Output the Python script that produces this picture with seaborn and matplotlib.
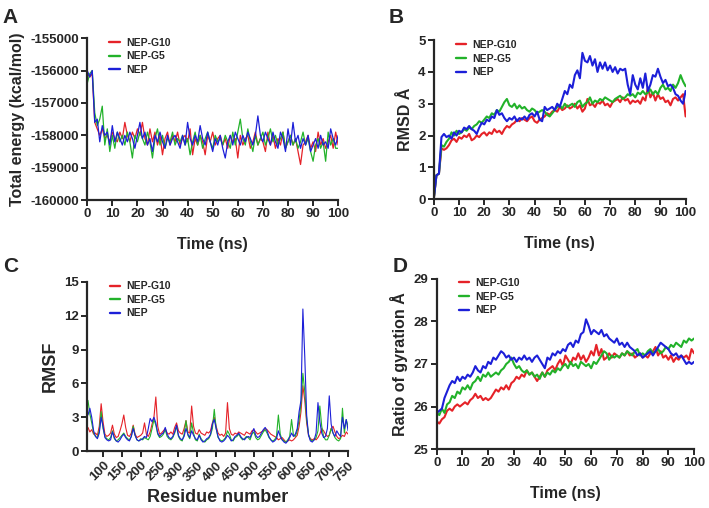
import numpy as np
import pandas as pd
import matplotlib
matplotlib.use("Agg")
import matplotlib.pyplot as plt
import seaborn as sns

# ---- data ----
series_names = ["NEP-G10", "NEP-G5", "NEP"]
series_colors = ["#e52228", "#22b22a", "#1c1fd8"]

time_ns = list(range(0, 101))

energy_g10 = [-156100, -156200, -156100, -157600, -157800, -158000, -157800, -158100, -158000, -158200,
              -157900, -158100, -158200, -157900, -158100, -157600, -158000, -158200, -157900, -158100,
              -157800, -158000, -157600, -158100, -158300, -157800, -158200, -157900, -158300, -158000,
              -158600, -158100, -157900, -158300, -158000, -158200, -157900, -158300, -158100, -158000,
              -158200, -157800, -158600, -158100, -158300, -158000, -158200, -158600, -158000, -158200,
              -157900, -158300, -158100, -158000, -158300, -158100, -158400, -158000, -158200, -158100,
              -158700, -158000, -158300, -158100, -158000, -158400, -158200, -157900, -158300, -158100,
              -158200, -158500, -157900, -158300, -158000, -158400, -158100, -158300, -157900, -158400,
              -158200, -158000, -158300, -158100, -158500, -158900, -158300, -158200, -158000, -158400,
              -158200, -158500, -157900, -158300, -158100, -158400, -158200, -158000, -158400, -157900,
              -158300]
energy_g5 = [-156400, -156100, -156000, -157300, -157700, -157500, -157100, -158300, -157800, -158500,
             -158000, -158400, -157900, -158200, -158000, -158300, -157900, -158200, -158700, -158000,
             -158200, -157900, -158100, -158300, -157900, -158200, -158700, -158100, -157800, -158300,
             -158000, -158400, -158100, -158200, -157900, -158300, -158100, -158200, -158000, -158300,
             -158100, -158600, -158200, -157900, -158300, -158000, -158400, -158100, -157900, -158200,
             -158400, -158000, -158200, -158100, -158300, -158000, -158200, -158400, -157900, -158300,
             -157900, -157500, -158100, -158300, -157800, -158200, -158500, -158000, -158300, -158100,
             -157900, -158300, -158100, -157800, -158200, -158000, -158300, -158100, -157900, -158400,
             -158200, -158000, -158300, -158100, -158400, -158200, -157900, -158300, -158100, -158500,
             -158800, -158300, -158100, -158400, -158200, -158800, -157900, -158300, -158100, -158400,
             -158400]
energy_nep = [-156000, -156200, -156000, -157600, -157500, -158200, -157700, -158000, -157900, -158300,
              -157700, -158200, -157900, -158100, -158300, -158000, -158200, -157900, -158100, -158400,
              -158000, -157600, -158100, -157900, -158300, -158100, -158500, -158000, -158200, -157900,
              -158200, -158400, -158000, -158300, -158100, -158000, -158200, -158400, -158000, -158300,
              -157600, -158100, -158300, -158000, -158200, -157700, -158100, -158300, -157900, -158200,
              -158500, -158100, -158300, -158000, -158400, -158700, -158200, -158000, -158300, -157900,
              -158100, -158300, -158000, -158200, -157900, -158100, -158300, -158000, -157400, -158000,
              -158200, -157900, -158100, -158300, -157900, -158200, -158400, -157900, -158100, -158500,
              -157800, -158300, -157600, -158200, -158000, -158400, -158100, -158300, -158000, -158500,
              -158300, -158100, -158400, -158000, -158300, -158200, -158400, -157800, -158100, -158300,
              -158000]

rmsd_g10 = [0.05, 0.75, 0.8, 1.6, 1.55, 1.6, 1.7, 1.85, 1.9, 1.8,
            1.95, 1.9, 2.0, 1.95, 2.05, 1.85, 1.9, 2.0, 1.95, 2.05,
            2.1, 2.0, 2.1, 2.05, 2.2, 2.1, 2.15, 2.05, 2.2, 2.3,
            2.25, 2.35, 2.4, 2.5, 2.45, 2.55, 2.5, 2.45, 2.55, 2.6,
            2.45, 2.4, 2.5, 2.55, 2.6, 2.7, 2.65, 2.75, 2.8, 2.75,
            2.9, 2.8, 2.85, 2.95, 2.85, 2.9, 3.0, 2.85, 2.95, 2.75,
            2.85, 3.15, 2.95, 3.0, 2.9, 3.05, 3.0, 3.1, 2.95, 3.0,
            2.9, 3.05, 3.1, 3.15, 3.05, 3.2, 3.1, 3.15, 3.0, 3.1,
            3.05, 3.1, 3.0, 3.2, 3.1, 3.5, 3.2, 3.35, 3.1, 3.3,
            3.15, 3.2, 3.05, 3.1, 2.95, 3.15, 3.2, 3.1, 3.2, 3.3,
            2.6]
rmsd_g5 = [0.05, 0.75, 0.8, 1.7, 1.65, 1.8, 1.9, 2.1, 2.0, 2.15,
           2.05, 2.1, 2.2, 2.15, 2.25, 2.2, 2.3, 2.35, 2.45, 2.4,
           2.5, 2.6, 2.55, 2.7, 2.65, 2.8, 2.75, 2.9, 3.05, 3.15,
           2.95, 2.9, 3.0, 2.85, 2.95, 2.85, 2.9, 2.8, 2.75, 2.85,
           2.8, 2.7, 2.75, 2.8, 2.75, 2.65, 2.6, 2.7, 2.8, 2.9,
           2.95, 2.85, 3.0, 2.9, 2.95, 3.0, 2.9, 3.05, 3.1, 2.9,
           3.0, 3.05, 3.2, 3.0, 3.1, 3.05, 3.15, 3.1, 3.2, 3.15,
           3.1, 3.05, 3.15, 3.2, 3.25, 3.15, 3.2, 3.3, 3.25, 3.3,
           3.2, 3.35, 3.3, 3.4, 3.3, 3.35, 3.45, 3.3, 3.4, 3.3,
           3.5, 3.6, 3.45, 3.5, 3.4, 3.6, 3.5, 3.65, 3.9, 3.7,
           3.55]
rmsd_nep = [0.05, 0.75, 0.8, 1.95, 2.05, 1.95, 2.0, 1.9, 2.1, 2.0,
            2.15, 2.1, 2.25, 2.2, 2.3, 2.2, 2.15, 2.05, 2.25, 2.4,
            2.35, 2.5, 2.45, 2.6, 2.55, 2.8, 2.65, 2.7, 2.55, 2.45,
            2.55, 2.5, 2.6, 2.45, 2.55, 2.5, 2.6, 2.5, 2.65, 2.7,
            2.6, 2.75, 2.5, 2.45, 2.9, 2.8, 2.85, 2.9, 2.8, 3.0,
            2.9, 3.15, 3.4, 3.3, 3.6, 3.5, 3.9, 4.05, 3.8, 4.6,
            4.35, 4.3, 4.5, 4.2, 4.4, 4.0, 4.3, 4.1, 4.3, 4.05,
            4.2, 4.0, 4.15, 3.95, 4.1, 4.05, 4.1, 3.6, 3.3, 3.9,
            3.6, 3.45, 3.8, 3.5, 3.95, 3.4, 3.6, 3.9, 3.85, 4.1,
            3.85, 3.65, 3.75, 3.55, 3.6, 3.5, 3.3, 3.25, 3.1, 3.0,
            3.4]

residues = list(range(60, 751, 5))
rmsf_g10 = [2.1, 1.7, 1.9, 1.5, 1.6, 1.4, 2.2, 4.2, 2.6, 1.5,
            1.3, 1.4, 1.6, 2.3, 1.5, 1.2, 1.3, 1.8, 2.4, 3.2,
            2.1, 1.4, 1.3, 1.6, 2.3, 1.5, 1.2, 1.3, 1.4, 1.6,
            2.5, 1.5, 1.3, 1.7, 2.4, 3.0, 4.8, 2.2, 1.5, 1.6,
            1.8, 2.0, 1.6, 1.5, 1.7, 1.5, 2.1, 2.5, 1.8, 1.6,
            1.5, 2.0, 2.7, 1.7, 1.6, 4.0, 2.2, 1.6, 1.5, 1.9,
            1.6, 1.5, 1.4, 1.7, 1.6, 1.8, 2.5, 3.0, 2.2, 1.6,
            1.4, 1.5, 1.3, 1.6, 4.3, 2.0, 1.5, 1.4, 1.6, 1.5,
            1.7, 1.6, 1.5, 1.4, 1.7, 1.6, 1.5, 1.8, 1.9, 1.7,
            1.5, 1.6, 1.7, 1.8, 2.0, 1.9, 1.7, 1.5, 1.4, 1.3,
            1.2, 1.0, 1.1, 1.2, 1.0, 0.8, 0.9, 1.0, 0.9, 1.0,
            1.2, 1.4, 2.2, 3.5, 5.8, 4.5, 2.5, 1.4, 1.1, 1.0,
            1.1, 1.0, 1.2, 1.5, 2.0, 1.8, 1.5, 1.3, 1.4, 2.0,
            2.2, 1.7, 1.3, 1.1, 1.2, 1.4, 1.3, 1.7, 1.5]
rmsf_g5 = [4.5, 3.3, 2.5, 1.6, 1.3, 1.2, 1.8, 3.5, 2.0, 1.3,
           1.1, 1.0, 1.2, 1.8, 1.1, 0.9, 1.0, 1.2, 1.4, 1.6,
           1.3, 1.1, 1.0, 1.3, 2.2, 1.4, 1.0, 0.9, 1.1, 1.0,
           1.2, 1.1, 1.0, 1.3, 2.0, 2.8, 2.3, 1.5, 1.2, 1.3,
           1.5, 1.9, 1.3, 1.1, 1.0, 1.2, 1.6, 2.2, 1.3, 1.0,
           0.9, 1.5, 2.7, 1.4, 1.1, 2.5, 1.6, 1.0, 0.9, 1.5,
           1.1, 0.9, 0.8, 1.0, 1.1, 1.4, 2.0, 3.7, 2.0, 1.2,
           1.0, 0.9, 1.0, 1.2, 1.8, 1.5, 1.0, 0.9, 1.2, 1.3,
           1.5, 1.2, 1.0, 1.1, 1.3, 1.2, 1.0, 1.5, 1.7, 1.2,
           1.0, 1.1, 1.4, 1.7, 1.9, 1.6, 1.2, 1.0, 0.9, 1.0,
           1.3, 3.2, 1.5, 1.0, 0.9, 0.8, 1.0, 1.3, 2.8, 1.4,
           1.3, 1.8, 2.8, 4.2, 6.9, 5.3, 2.8, 1.5, 1.0, 0.9,
           1.0, 1.2, 1.8, 4.0, 2.2, 1.3, 1.0, 1.0, 1.4, 2.0,
           1.6, 1.2, 1.0, 0.9, 1.1, 3.8, 1.6, 2.8, 2.2]
rmsf_nep = [3.2, 3.8, 3.0, 1.8, 1.3, 1.1, 1.6, 3.0, 2.2, 1.2,
            1.0, 0.9, 1.0, 1.7, 1.2, 0.9, 0.8, 1.0, 1.3, 1.5,
            1.2, 1.0, 0.9, 1.3, 2.0, 1.4, 1.0, 0.9, 1.0, 1.1,
            1.3, 1.2, 2.0, 2.9, 2.6, 3.0, 2.5, 1.6, 1.3, 1.5,
            1.6, 2.1, 1.5, 1.2, 1.1, 1.3, 1.7, 2.3, 1.4, 1.1,
            1.0, 1.3, 2.0, 1.5, 1.2, 1.8, 1.4, 1.1, 1.0, 1.4,
            1.0, 0.8, 0.9, 1.1, 1.2, 1.5, 2.4, 2.8, 2.0, 1.3,
            0.9, 0.8, 0.9, 1.1, 1.4, 1.2, 0.9, 1.0, 1.3, 1.4,
            1.6, 1.3, 1.1, 1.0, 1.2, 1.3, 1.2, 1.6, 2.0, 1.4,
            1.2, 1.3, 1.6, 1.9, 2.1, 1.8, 1.3, 1.0, 0.8, 0.9,
            1.1, 1.8, 1.3, 1.0, 0.8, 0.7, 0.9, 1.2, 1.6, 1.3,
            1.5, 2.0, 3.5, 4.5, 12.6, 8.4, 3.2, 1.4, 0.9, 0.8,
            1.0, 1.6, 4.3, 2.6, 1.6, 1.2, 1.3, 2.0, 4.9, 2.4,
            1.6, 1.3, 1.8, 1.5, 1.3, 3.0, 2.0, 2.8, 1.8]

rg_g10 = [25.65, 25.6, 25.7, 25.75, 25.9, 25.95, 25.9, 26.0, 26.05, 26.0,
          26.05, 26.1, 26.05, 26.15, 26.2, 26.3, 26.2, 26.25, 26.15, 26.2,
          26.15, 26.2, 26.3, 26.4, 26.35, 26.45, 26.4, 26.5, 26.4, 26.55,
          26.6, 26.7, 26.65, 26.75, 26.7, 26.85, 26.75, 26.8, 26.7, 26.6,
          26.7, 26.8, 26.7, 26.85, 26.9, 26.95, 26.85, 27.0, 27.1, 26.95,
          27.2, 27.1, 27.0, 27.15, 27.1, 27.25, 27.1, 27.2, 27.05, 27.15,
          27.3, 27.2, 27.45, 27.2, 27.35, 27.1, 27.15, 27.25, 27.15, 27.25,
          27.2, 27.15, 27.25, 27.2, 27.3, 27.2, 27.25, 27.15, 27.2, 27.25,
          27.15, 27.2, 27.15, 27.25, 27.3, 27.4, 27.2, 27.3, 27.15, 27.2,
          27.1, 27.2, 27.05, 27.15, 27.1, 27.2, 27.15, 27.2, 27.1, 27.35,
          27.25]
rg_g5 = [25.85, 25.8, 25.95, 25.85, 26.05, 26.1, 26.25, 26.2, 26.35, 26.3,
         26.45, 26.4, 26.5, 26.4, 26.55, 26.6, 26.7, 26.6, 26.75, 26.7,
         26.8, 26.7, 26.75, 26.8, 26.75, 26.85, 26.9, 27.0, 27.05, 27.15,
         27.0, 26.9, 26.95, 26.85, 26.8, 26.85, 26.75, 26.8, 26.7, 26.75,
         26.65, 26.8, 26.7, 26.8, 26.75, 26.85, 26.8, 26.9, 26.85, 26.95,
         27.0, 26.9, 27.05, 26.95, 27.0, 26.9, 27.05, 27.0, 26.95, 27.0,
         26.9, 27.05, 27.0, 27.1, 27.2, 27.3, 27.25, 27.1, 27.2, 27.15,
         27.2, 27.15, 27.25, 27.2, 27.3, 27.25, 27.2, 27.3, 27.35, 27.2,
         27.25, 27.2, 27.3, 27.35, 27.25, 27.3, 27.35, 27.25, 27.3, 27.4,
         27.35, 27.45, 27.4, 27.5, 27.45, 27.4, 27.55, 27.5, 27.6, 27.55,
         27.6]
rg_nep = [25.85, 25.9, 25.95, 26.2, 26.35, 26.5, 26.6, 26.55, 26.7, 26.6,
          26.7, 26.65, 26.75, 26.7, 26.8, 26.95, 26.85, 26.8, 26.95, 26.9,
          27.05, 27.0, 27.15, 27.1, 27.2, 27.3, 27.25, 27.15, 27.2, 27.1,
          27.15, 27.05, 27.15, 27.1, 27.2, 27.1, 27.15, 27.05, 27.15, 27.2,
          27.1, 27.0, 26.9, 27.15, 27.1, 27.25, 27.2, 27.3, 27.25, 27.35,
          27.3, 27.45, 27.5, 27.4, 27.55, 27.5, 27.7, 27.75, 28.05, 27.9,
          27.7, 27.8, 27.75, 27.7, 27.8, 27.65, 27.7, 27.6, 27.55, 27.5,
          27.6, 27.45, 27.5, 27.4, 27.5, 27.4, 27.35, 27.3, 27.2, 27.25,
          27.15, 27.2, 27.25, 27.3, 27.2, 27.3, 27.4, 27.5, 27.45, 27.4,
          27.35, 27.25, 27.2, 27.25, 27.15, 27.2, 27.1, 27.0, 27.05, 27.0,
          27.05]

sns.set_style("ticks")
plt.rcParams['font.family'] = ['Liberation Sans', 'DejaVu Sans']
plt.rcParams['font.weight'] = 'bold'
plt.rcParams['axes.labelweight'] = 'bold'
plt.rcParams['axes.unicode_minus'] = False

fig = plt.figure(figsize=(7.09, 5.08), dpi=100)
ax_a = fig.add_axes([0.123, 0.606, 0.354, 0.319])
ax_b = fig.add_axes([0.612, 0.608, 0.355, 0.313])
ax_c = fig.add_axes([0.123, 0.112, 0.368, 0.333])
ax_d = fig.add_axes([0.616, 0.116, 0.363, 0.335])


def draw(ax, x, ys, lw):
    for name, col, y in zip(series_names, series_colors, ys):
        sns.lineplot(x=x, y=y, ax=ax, color=col, linewidth=lw, label=name)
    leg = ax.legend(loc="upper left", bbox_to_anchor=(0.05, 1.06), frameon=False,
                    handlelength=1.0, handletextpad=0.6, labelspacing=0.35,
                    prop={'weight': 'bold', 'size': 7.5})
    for h in leg.get_lines():
        h.set_linewidth(1.7)
    for s in ["left", "bottom"]:
        ax.spines[s].set_linewidth(1.6)
    sns.despine(ax=ax)
    ax.tick_params(width=1.4, length=4, labelsize=9.5, pad=2)
    for lab in ax.get_xticklabels() + ax.get_yticklabels():
        lab.set_fontweight('bold')


# A
draw(ax_a, time_ns, [energy_g10, energy_g5, energy_nep], 0.9)
ax_a.set_xlim(0, 100)
ax_a.set_ylim(-160000, -155000)
ax_a.set_xticks(range(0, 101, 10))
ax_a.set_yticks(range(-160000, -154999, 1000))
ax_a.set_xlabel("Time (ns)", fontsize=11.5, labelpad=12)
ax_a.set_ylabel("Total energy (kcal/mol)", fontsize=11.5)

# B
draw(ax_b, time_ns, [rmsd_g10, rmsd_g5, rmsd_nep], 1.5)
ax_b.set_xlim(0, 100)
ax_b.set_ylim(0, 5)
ax_b.set_xticks(range(0, 101, 10))
ax_b.set_yticks(range(0, 6))
ax_b.set_xlabel("Time (ns)", fontsize=11.5, labelpad=12)
ax_b.set_ylabel("RMSD Å", fontsize=11.5)

# C
draw(ax_c, residues, [rmsf_g10, rmsf_g5, rmsf_nep], 0.8)
ax_c.set_xlim(58, 750)
ax_c.set_ylim(0, 15)
ax_c.set_xticks(range(100, 751, 50))
ax_c.set_yticks(range(0, 16, 3))
ax_c.tick_params(axis='x', labelrotation=45)
for lab in ax_c.get_xticklabels():
    lab.set_ha('right')
    lab.set_rotation_mode('anchor')
ax_c.set_xlabel("Residue number", fontsize=13, labelpad=4)
ax_c.set_ylabel("RMSF", fontsize=13)

# D
draw(ax_d, time_ns, [rg_g10, rg_g5, rg_nep], 1.5)
ax_d.set_xlim(0, 100)
ax_d.set_ylim(25, 29)
ax_d.set_xticks(range(0, 101, 10))
ax_d.set_yticks(range(25, 30))
ax_d.set_xlabel("Time (ns)", fontsize=11.5, labelpad=12)
ax_d.set_ylabel("Ratio of gyration Å", fontsize=11.5)

for letter, (x, y) in zip("ABCD", [(0.004, 0.985), (0.548, 0.985), (0.004, 0.495), (0.554, 0.495)]):
    fig.text(x, y, letter, fontsize=15, fontweight='bold', va='top', ha='left')

fig.savefig("out.png", dpi=100)
